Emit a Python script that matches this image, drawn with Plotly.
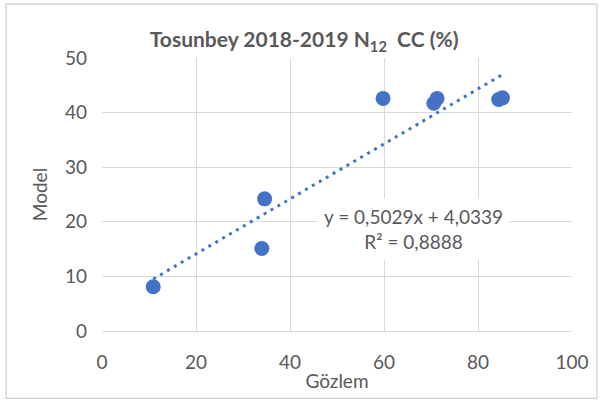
import numpy as np
import plotly.graph_objects as go

gozlem = [10.9, 34.6, 34.0, 59.8, 71.3, 70.6, 84.4, 85.2]
model = [8.1, 24.2, 15.1, 42.6, 42.6, 41.7, 42.4, 42.7]

x_ticks = [0, 20, 40, 60, 80, 100]
y_ticks = [0, 10, 20, 30, 40, 50]

blue = "#4472C4"
grey_txt = "#595959"
grid = "#d9d9d9"
font = "Lato"

# linear trendline from the data
slope, intercept = np.polyfit(gozlem, model, 1)
tx = np.array([min(gozlem), max(gozlem)])
ty = slope * tx + intercept

fig = go.Figure()

fig.add_trace(go.Scatter(
    x=tx, y=ty, mode="lines",
    line=dict(color=blue, width=3, dash="3px,5px"),
    hoverinfo="skip"
))

fig.add_trace(go.Scatter(
    x=gozlem, y=model, mode="markers",
    marker=dict(color=blue, size=15, line=dict(width=0))
))

# trendline equation box
fig.add_annotation(
    x=66.3, y=18.6, xref="x", yref="y",
    text="y = 0,5029x + 4,0339<br>R² = 0,8888",
    showarrow=False, align="center",
    font=dict(family=font, size=19, color=grey_txt),
    bgcolor="white", borderpad=6
)

# outer chart border
fig.add_shape(
    type="rect", xref="paper", yref="paper",
    x0=-0.204, x1=1.053, y0=-0.247, y1=1.197,
    line=dict(color="#cfcfcf", width=1.2), fillcolor="rgba(0,0,0,0)",
    layer="above"
)

fig.update_layout(
    width=601, height=403,
    margin=dict(l=102, r=29, t=58, b=72),
    paper_bgcolor="white", plot_bgcolor="white",
    showlegend=False,
    title=dict(
        text="<b>Tosunbey 2018-2019 N<sub>12</sub>  CC (%)</b>",
        x=0.43, xref="paper", xanchor="center",
        y=1 - 40 / 403, yref="container", yanchor="middle",
        font=dict(family=font, size=21, color=grey_txt)
    ),
    font=dict(family=font, color=grey_txt)
)

fig.update_xaxes(
    range=[0, 100], tickvals=x_ticks, automargin=False,
    showgrid=True, gridcolor=grid, gridwidth=1,
    zeroline=False, showline=True, linecolor=grid, mirror=False,
    ticks="", ticklabelstandoff=14,
    tickfont=dict(family=font, size=19, color=grey_txt),
    title=dict(text="Gözlem", standoff=2,
               font=dict(family=font, size=19, color=grey_txt))
)

fig.update_yaxes(
    range=[0, 50], tickvals=y_ticks, automargin=False,
    showgrid=True, gridcolor=grid, gridwidth=1,
    zeroline=False, showline=False,
    ticks="", ticklabelstandoff=14,
    tickfont=dict(family=font, size=19, color=grey_txt),
    title=dict(text="Model", standoff=12,
               font=dict(family=font, size=19, color=grey_txt))
)

fig.write_html("out.html", config={"displayModeBar": False},
               post_script="document.body.style.margin='0';")
